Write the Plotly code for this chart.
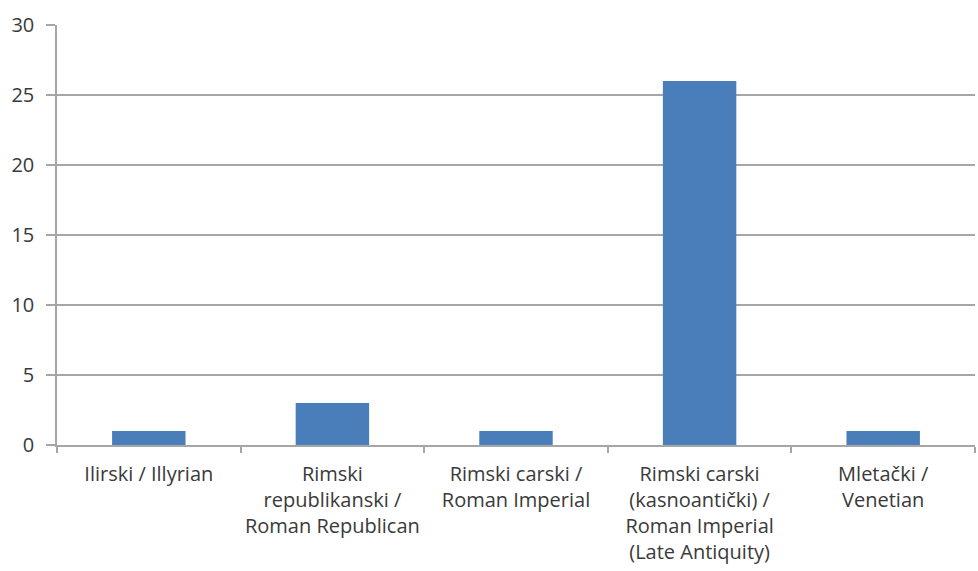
import plotly.graph_objects as go

categories = [
    "Ilirski / Illyrian",
    "Rimski<br>republikanski /<br>Roman Republican",
    "Rimski carski /<br>Roman Imperial",
    "Rimski carski<br>(kasnoantički) /<br>Roman Imperial<br>(Late Antiquity)",
    "Mletački /<br>Venetian",
]
values = [1, 3, 1, 26, 1]
y_ticks = [0, 5, 10, 15, 20, 25, 30]

grid_color = "#a6a6a6"
text_color = "#3a3a3a"
font_family = "Open Sans, Lato, sans-serif"

fig = go.Figure(
    go.Bar(x=categories, y=values, marker=dict(color="#4a7ebb", line=dict(width=0)))
)

fig.update_layout(
    width=978,
    height=571,
    margin=dict(l=57, r=3, t=25, b=126),
    paper_bgcolor="white",
    plot_bgcolor="white",
    bargap=0.6,
    showlegend=False,
    font=dict(family=font_family, color=text_color, size=20),
)

fig.update_xaxes(
    automargin=False,
    showline=True,
    linecolor=grid_color,
    linewidth=1.5,
    ticks="outside",
    tickson="boundaries",
    ticklen=6,
    tickcolor=grid_color,
    tickwidth=1.5,
    tickangle=0,
    ticklabelstandoff=10,
    tickfont=dict(size=20, color=text_color, family=font_family),
    showgrid=False,
)

fig.update_yaxes(
    automargin=False,
    range=[0, 30],
    tickvals=y_ticks,
    showline=True,
    linecolor=grid_color,
    linewidth=1.5,
    showgrid=True,
    gridcolor=grid_color,
    gridwidth=1.5,
    ticks="outside",
    ticklen=9,
    tickcolor=grid_color,
    tickwidth=1.5,
    zeroline=False,
    ticklabelstandoff=8,
    tickfont=dict(size=20, color=text_color, family=font_family),
)

fig.write_html(
    "out.html",
    config={"displayModeBar": False},
    post_script="document.body.style.margin='0';document.body.style.overflow='hidden';",
)
